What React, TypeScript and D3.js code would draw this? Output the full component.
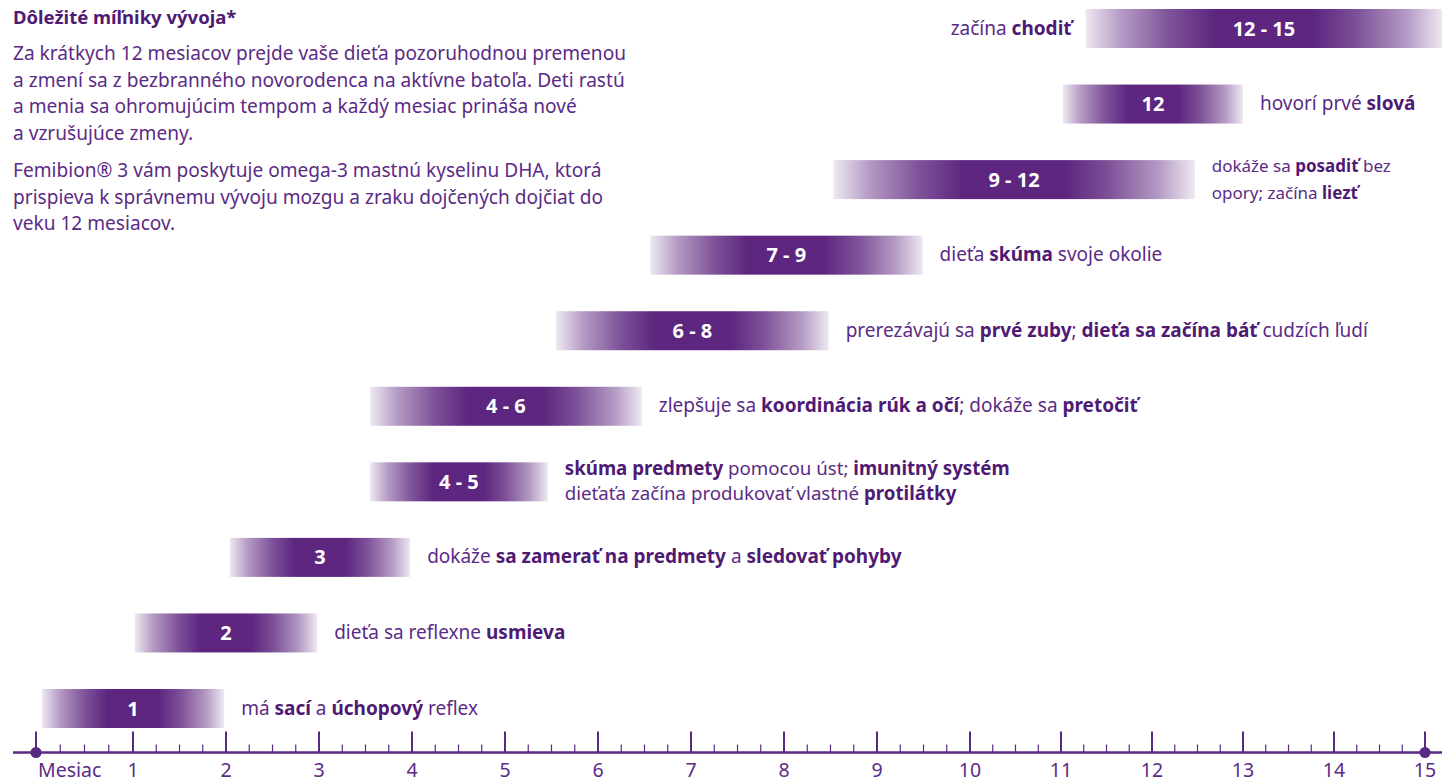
import * as d3 from 'd3';

const WIDTH = 1442;
const HEIGHT = 782;

const FONT = '"Noto Sans", "Open Sans", sans-serif';
const TEXT_COLOR = '#5b2b85';
const BOLD_COLOR = '#4f1a74';
const BAR_COLOR = '#581f7b';
const AXIS_COLOR = '#5a2a82';

// milestones, top to bottom; bar extents in months
const barLabels = ['12 - 15', '12', '9 - 12', '7 - 9', '6 - 8', '4 - 6', '4 - 5', '3', '2', '1'];
const barStart = [11.27, 11.02, 8.53, 6.56, 5.55, 3.55, 3.55, 2.04, 1.02, 0.06];
const barEnd = [15.19, 13.0, 12.47, 9.49, 8.48, 6.47, 5.46, 3.98, 2.98, 1.98];
const descOnLeft = [true, false, false, false, false, false, false, false, false, false];

type Seg = [string, boolean];
const descriptions: Seg[][][] = [
  [[['začína ', false], ['chodiť', true]]],
  [[['hovorí prvé ', false], ['slová', true]]],
  [
    [['dokáže sa ', false], ['posadiť', true], [' bez', false]],
    [['opory; začína ', false], ['liezť', true]],
  ],
  [[['dieťa ', false], ['skúma', true], [' svoje okolie', false]]],
  [[['prerezávajú sa ', false], ['prvé zuby', true], ['; ', false], ['dieťa sa začína báť', true], [' cudzích ľudí', false]]],
  [[['zlepšuje sa ', false], ['koordinácia rúk a očí', true], ['; dokáže sa ', false], ['pretočiť', true]]],
  [
    [['skúma predmety', true], [' pomocou úst; ', false], ['imunitný systém', true]],
    [['dieťaťa začína produkovať vlastné ', false], ['protilátky', true]],
  ],
  [[['dokáže ', false], ['sa zamerať na predmety', true], [' a ', false], ['sledovať pohyby', true]]],
  [[['dieťa sa reflexne ', false], ['usmieva', true]]],
  [[['má ', false], ['sací', true], [' a ', false], ['úchopový', true], [' reflex', false]]],
];

const axisLabels = ['Mesiac', '1', '2', '3', '4', '5', '6', '7', '8', '9', '10', '11', '12', '13', '14', '15'];
const months = d3.range(0, 16);

const title = 'Dôležité míľniky vývoja*';
const para1 = [
  'Za krátkych 12 mesiacov prejde vaše dieťa pozoruhodnou premenou',
  'a zmení sa z bezbranného novorodenca na aktívne batoľa. Deti rastú',
  'a menia sa ohromujúcim tempom a každý mesiac prináša nové',
  'a vzrušujúce zmeny.',
];
const para2 = [
  'Femibion® 3 vám poskytuje omega-3 mastnú kyselinu DHA, ktorá',
  'prispieva k správnemu vývoju mozgu a zraku dojčených dojčiat do',
  'veku 12 mesiacov.',
];

const AXIS_Y = 752.5;
const BAR_H = 39;

export default function App() {
  const x = d3.scaleLinear().domain([0, 1, 10, 15]).range([36, 133, 970, 1425]);
  const y = d3.scalePoint<string>().domain(barLabels).range([28.5, 708.5]);
  const minor = d3.range(0, 15).flatMap((m) => [0.25, 0.5, 0.75].map((f) => m + f));

  const renderLine = (segs: Seg[]) =>
    segs.map(([t, b], j) => (
      <tspan key={j} fontWeight={b ? 700 : 400} fill={b ? BOLD_COLOR : TEXT_COLOR}>
        {t}
      </tspan>
    ));

  return (
    <div style={{ position: 'absolute', left: 0, top: 0 }}>
      <svg width={WIDTH} height={HEIGHT} style={{ display: 'block', fontFamily: FONT }}>
        <defs>
          <linearGradient id="barGrad" x1="0" x2="1" y1="0" y2="0">
            <stop offset="0%" stopColor={BAR_COLOR} stopOpacity={0.1} />
            <stop offset="10%" stopColor={BAR_COLOR} stopOpacity={0.45} />
            <stop offset="24%" stopColor={BAR_COLOR} stopOpacity={0.78} />
            <stop offset="36%" stopColor={BAR_COLOR} stopOpacity={0.97} />
            <stop offset="64%" stopColor={BAR_COLOR} stopOpacity={0.97} />
            <stop offset="76%" stopColor={BAR_COLOR} stopOpacity={0.78} />
            <stop offset="90%" stopColor={BAR_COLOR} stopOpacity={0.45} />
            <stop offset="100%" stopColor={BAR_COLOR} stopOpacity={0.1} />
          </linearGradient>
        </defs>

        {/* intro text */}
        <text x={13} y={24} fontSize={18.5} fontWeight={700} fill={BOLD_COLOR}>
          {title}
        </text>
        {para1.map((l, i) => (
          <text key={'p1' + i} x={13} y={60 + i * 26.7} fontSize={19.1} fill={TEXT_COLOR}>
            {l}
          </text>
        ))}
        {para2.map((l, i) => (
          <text key={'p2' + i} x={13} y={177 + i * 26.5} fontSize={19.1} fill={TEXT_COLOR}>
            {l}
          </text>
        ))}

        {/* bars */}
        {barLabels.map((label, i) => {
          const x0 = x(barStart[i]);
          const x1 = x(barEnd[i]);
          const cy = y(label)!;
          const lines = descriptions[i];
          const small = lines.length > 1 && i < 5;
          const fs = small ? 17 : lines.length > 1 ? 18.7 : 19;
          const gap = small ? 27 : 25;
          const left = descOnLeft[i];
          return (
            <g key={label}>
              <rect x={x0} y={cy - BAR_H / 2} width={x1 - x0} height={BAR_H} fill="url(#barGrad)" />
              <text
                x={(x0 + x1) / 2}
                y={cy + 7}
                textAnchor="middle"
                fontSize={20}
                fontWeight={700}
                fill="#ffffff"
                style={{ whiteSpace: 'pre' }}
              >
                {label}
              </text>
              {lines.map((segs, k) => (
                <text
                  key={k}
                  x={left ? x0 - 14 : x1 + 17}
                  y={cy + 6 + (k - (lines.length - 1) / 2) * gap}
                  textAnchor={left ? 'end' : 'start'}
                  fontSize={fs}
                >
                  {renderLine(segs)}
                </text>
              ))}
            </g>
          );
        })}

        {/* axis */}
        <line x1={13} x2={WIDTH} y1={AXIS_Y} y2={AXIS_Y} stroke={AXIS_COLOR} strokeWidth={2.5} />
        {minor.map((m) => (
          <line key={'mn' + m} x1={x(m)} x2={x(m)} y1={AXIS_Y - 8} y2={AXIS_Y} stroke={AXIS_COLOR} strokeWidth={1.2} />
        ))}
        {months.map((m) => (
          <line key={'mj' + m} x1={x(m)} x2={x(m)} y1={AXIS_Y - 21} y2={AXIS_Y} stroke={AXIS_COLOR} strokeWidth={2} />
        ))}
        {[0, 15].map((m) => (
          <circle key={'dot' + m} cx={x(m)} cy={AXIS_Y} r={5.5} fill={AXIS_COLOR} />
        ))}
        {months.map((m) => (
          <text
            key={'lb' + m}
            x={m === 0 ? x(m) + 2 : x(m)}
            y={776.5}
            textAnchor={m === 0 ? 'start' : 'middle'}
            fontSize={19.5}
            fill={TEXT_COLOR}
          >
            {axisLabels[m]}
          </text>
        ))}
      </svg>
    </div>
  );
}
